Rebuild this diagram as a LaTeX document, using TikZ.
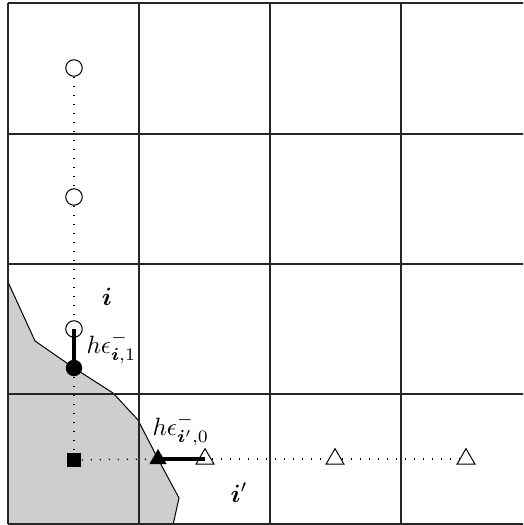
\documentclass[tikz,border=0pt]{standalone}
\usepackage{amsmath,bm}
\usetikzlibrary{shapes.geometric}
\definecolor{regiongray}{RGB}{205,207,206}
\begin{document}
\begin{tikzpicture}[x=0.4pt,y=-0.4pt,
  gridline/.style={line width=0.6pt, black!85},
  dotline/.style={line width=0.5pt, dash pattern=on 0.5pt off 3.1pt},
  thickline/.style={line width=1.4pt},
  opencirc/.style={circle, draw, fill=white, line width=0.4pt, minimum size=6.6pt, inner sep=0pt},
  fillcirc/.style={circle, fill=black, minimum size=6.6pt, inner sep=0pt},
  sqmark/.style={rectangle, fill=black, minimum size=5.8pt, inner sep=0pt},
  opentri/.style={regular polygon, regular polygon sides=3, draw, fill=white, line width=0.4pt, minimum size=8.3pt, inner sep=0pt},
  filltri/.style={regular polygon, regular polygon sides=3, fill=black, minimum size=8.0pt, inner sep=0pt}
]
\useasboundingbox (0,0) rectangle (523,525);
\clip (0,0) rectangle (523,525);
% shaded region
\fill[regiongray] (8,282) -- (35,341) -- (74,368) -- (113,393) -- (138,420) -- (158,459) -- (179,498) -- (173,525) -- (8,525) -- cycle;
\draw[line width=0.4pt] (8,282) -- (35,341) -- (74,368) -- (113,393) -- (138,420) -- (158,459) -- (179,498) -- (173,525);
% grid
\foreach \x in {8,139,270,401,532} \draw[gridline] (\x,3) -- (\x,524);
\foreach \y in {3,134,264,394,524} \draw[gridline] (8,\y) -- (532,\y);
% markers
\node[opencirc] (c1) at (74,68) {};
\node[opencirc] (c2) at (74,197) {};
\node[opencirc] (c3) at (74,329) {};
\node[fillcirc] (fc) at (74,368) {};
\node[sqmark] (sq) at (74,460) {};
\node[filltri] (ft) at (158,459) {};
\node[opentri] (t1) at (205,459) {};
\node[opentri] (t2) at (335,459) {};
\node[opentri] (t3) at (466,459) {};
% dotted connectors
\draw[dotline] (c1) -- (c2);
\draw[dotline] (c2) -- (c3);
\draw[dotline] (fc) -- (sq);
\draw[dotline] (sq) -- (ft);
\draw[dotline] (t1) -- (t2);
\draw[dotline] (t2) -- (t3);
% thick connectors
\draw[thickline] (c3.center) -- (fc.center);
\draw[thickline] (ft.center) -- (t1.center);
% labels
\node (li) at (107,297) {$\boldsymbol{i}$};
\node[anchor=base west, inner sep=0pt] (le1) at (86,353) {$h\epsilon^-_{\boldsymbol{i},1}$};
\node[anchor=base west, inner sep=0pt] (le2) at (152,435) {$h\epsilon^-_{\boldsymbol{i}',0}$};
\node[anchor=base west, inner sep=0pt] (lip) at (230,502) {$\boldsymbol{i}'$};
\end{tikzpicture}
\end{document}
